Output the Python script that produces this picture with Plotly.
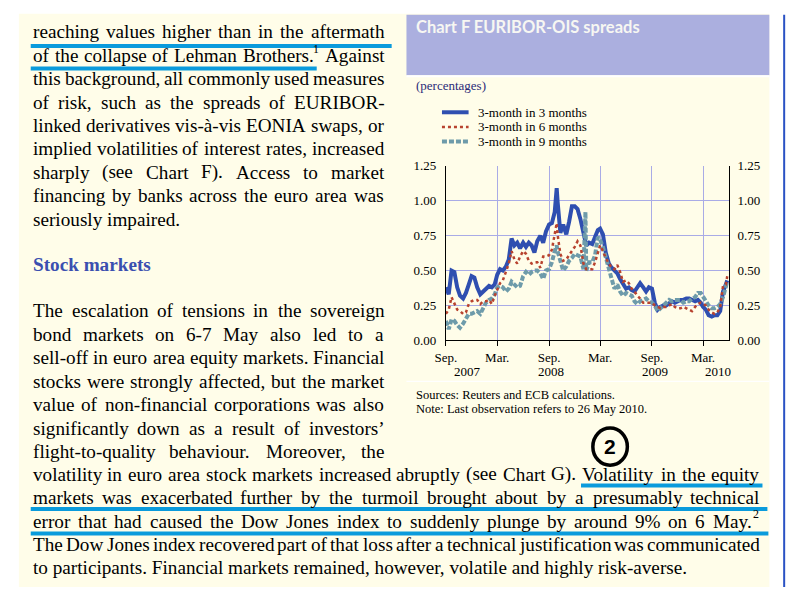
import plotly.graph_objects as go

W, H = 796, 595

# ---------------- data ----------------
dates = [
    "2007-09-01", "2007-09-11", "2007-09-21", "2007-10-01", "2007-10-11", "2007-10-21",
    "2007-11-01", "2007-11-11", "2007-11-21", "2007-12-01", "2007-12-11", "2007-12-21",
    "2008-01-01", "2008-01-11", "2008-01-21", "2008-02-01", "2008-02-11", "2008-02-21",
    "2008-03-01", "2008-03-11", "2008-03-21", "2008-04-01", "2008-04-11", "2008-04-21",
    "2008-05-01", "2008-05-11", "2008-05-21", "2008-06-01", "2008-06-11", "2008-06-21",
    "2008-07-01", "2008-07-11", "2008-07-21", "2008-08-01", "2008-08-11", "2008-08-21",
    "2008-09-01", "2008-09-11", "2008-09-21", "2008-09-28", "2008-10-01", "2008-10-11", "2008-10-21",
    "2008-11-01", "2008-11-11", "2008-11-21", "2008-12-01", "2008-12-11", "2008-12-21",
    "2009-01-01", "2009-01-08", "2009-01-11", "2009-01-21", "2009-02-01", "2009-02-11", "2009-02-21",
    "2009-03-01", "2009-03-11", "2009-03-21", "2009-04-01", "2009-04-11", "2009-04-21",
    "2009-05-01", "2009-05-11", "2009-05-21", "2009-06-01", "2009-06-11", "2009-06-21",
    "2009-07-01", "2009-07-11", "2009-07-21", "2009-08-01", "2009-08-11", "2009-08-21",
    "2009-09-01", "2009-09-11", "2009-09-21", "2009-10-01", "2009-10-11", "2009-10-21",
    "2009-11-01", "2009-11-11", "2009-11-21", "2009-12-01", "2009-12-11", "2009-12-21",
    "2010-01-01", "2010-01-11", "2010-01-21", "2010-02-01", "2010-02-11", "2010-02-21",
    "2010-03-01", "2010-03-11", "2010-03-21", "2010-04-01", "2010-04-11", "2010-04-21",
    "2010-05-01", "2010-05-11", "2010-05-21", "2010-05-26",
]

m3_in_3m = [
    .38, .33, .50, .49, .38, .32, .30, .34, .40, .46, .45, .38,
    .33, .35, .37, .39, .38, .40, .47, .51, .50, .53, .58, .73,
    .68, .70, .66, .70, .67, .70, .68, .63, .71, .75, .70, .78,
    .83, .84, .92, 1.09, 1.00, .77, .83, .76, .85, .96, .96, .94, .87,
    .76, .70, .68, .70, .69, .74, .79, .80, .76, .63, .55, .52, .50,
    .48, .44, .40, .37, .38, .36, .35, .38, .41, .38, .35, .38,
    .37, .27, .22, .24, .25, .25, .27, .28, .27, .28, .29, .29,
    .30, .30, .29, .28, .29, .27, .24, .22, .18, .17, .18, .18,
    .21, .35, .40, .43,
]

m3_in_6m = [
    .19, .22, .31, .26, .22, .21, .19, .20, .26, .28, .29, .29,
    .26, .28, .28, .29, .26, .32, .37, .41, .43, .49, .55, .64,
    .58, .55, .60, .64, .62, .57, .55, .56, .56, .52, .60, .60,
    .61, .65, .76, .84, .76, .62, .57, .58, .61, .64, .67, .71, .68,
    .55, .52, .51, .51, .51, .56, .62, .68, .64, .59, .55, .52, .51,
    .54, .49, .42, .43, .41, .37, .35, .32, .30, .27, .27, .27,
    .27, .25, .24, .23, .24, .24, .25, .26, .24, .23, .23, .24,
    .23, .22, .21, .24, .26, .27, .26, .25, .22, .20, .19, .20,
    .24, .39, .40, .46,
]

m3_in_9m = [
    .14, .08, .15, .14, .11, .09, .12, .16, .19, .19, .20, .21,
    .19, .23, .27, .29, .30, .33, .38, .39, .38, .35, .37, .42,
    .40, .38, .39, .46, .49, .47, .49, .50, .50, .48, .44, .50,
    .51, .56, .64, .68, .64, .56, .50, .53, .57, .59, .62, .61, .60,
    .51, .92, .50, .56, .56, .61, .74, .72, .67, .59, .50, .44, .37,
    .40, .35, .32, .34, .33, .32, .28, .26, .28, .29, .30, .28,
    .27, .25, .21, .23, .25, .27, .29, .28, .29, .29, .29, .27,
    .28, .28, .30, .31, .34, .34, .31, .28, .25, .23, .23, .24,
    .26, .31, .37, .42,
]

series_names = ["3-month in 3 months", "3-month in 6 months", "3-month in 9 months"]
tick_dates = ["2007-09-01", "2008-03-01", "2008-09-01", "2009-03-01", "2009-09-01", "2010-03-01"]
tick_text = ["Sep.", "Mar.", "Sep.", "Mar.", "Sep.", "Mar."]
year_labels = ["2007", "2008", "2009", "2010"]
year_label_dates = ["2007-11-17", "2008-09-08", "2009-09-10", "2010-04-24"]
y_ticks = [0, 0.25, 0.5, 0.75, 1.0, 1.25]
y_ticktext = ["0.00", "0.25", "0.50", "0.75", "1.00", "1.25"]

chart_title = "Chart F EURIBOR-OIS spreads"
unit_label = "(percentages)"
source_lines = ["Sources: Reuters and ECB calculations.",
                "Note: Last observation refers to 26 May 2010."]

para1 = [
    "reaching values higher than in the aftermath",
    "of the collapse of Lehman Brothers.^1 Against",
    "this background, all commonly used measures",
    "of risk, such as the spreads of EURIBOR-",
    "linked derivatives vis-à-vis EONIA swaps, or",
    "implied volatilities of interest rates, increased",
    "sharply (see Chart F). Access to market",
    "financing by banks across the euro area was",
    "seriously impaired.",
]
heading = "Stock markets"
para2 = [
    "The escalation of tensions in the sovereign",
    "bond markets on 6-7 May also led to a",
    "sell-off in euro area equity markets. Financial",
    "stocks were strongly affected, but the market",
    "value of non-financial corporations was also",
    "significantly down as a result of investors’",
    "flight-to-quality behaviour. Moreover, the",
]
para3 = [
    "volatility in euro area stock markets increased abruptly (see Chart G). Volatility in the equity",
    "markets was exacerbated further by the turmoil brought about by a presumably technical",
    "error that had caused the Dow Jones index to suddenly plunge by around 9% on 6 May.^2",
    "The Dow Jones index recovered part of that loss after a technical justification was communicated",
    "to participants. Financial markets remained, however, volatile and highly risk-averse.",
]

# ---------------- helpers ----------------
SERIF = "Liberation Serif, Times New Roman, serif"
CREAM = "#FFFDE9"
GRID = "#A9ABE6"


def PX(x):
    return x / W


def PY(y):
    return 1 - y / H


TW = {' ': 250, '!': 333, '"': 408, '#': 500, '$': 500, '%': 833, '&': 778, "'": 180,
      '(': 333, ')': 333, '*': 500, '+': 564, ',': 250, '-': 333, '.': 250, '/': 278,
      ':': 278, ';': 278, '?': 444,
      'A': 722, 'B': 667, 'C': 667, 'D': 722, 'E': 611, 'F': 556, 'G': 722, 'H': 722,
      'I': 333, 'J': 389, 'K': 722, 'L': 611, 'M': 889, 'N': 722, 'O': 722, 'P': 556,
      'Q': 722, 'R': 667, 'S': 556, 'T': 611, 'U': 722, 'V': 722, 'W': 944, 'X': 722,
      'Y': 722, 'Z': 611,
      'a': 444, 'b': 500, 'c': 444, 'd': 500, 'e': 444, 'f': 333, 'g': 500, 'h': 500,
      'i': 278, 'j': 278, 'k': 500, 'l': 278, 'm': 778, 'n': 500, 'o': 500, 'p': 500,
      'q': 500, 'r': 333, 's': 389, 't': 278, 'u': 500, 'v': 500, 'w': 722, 'x': 500,
      'y': 500, 'z': 444, 'à': 444, '’': 333}
for d in "0123456789":
    TW[d] = 500

SUP = 0.62  # superscript size ratio


def split_sup(w):
    if "^" in w:
        base, sup = w.split("^")
        return base, sup
    return w, ""


def word_units(w):
    base, sup = split_sup(w)
    return sum(TW.get(c, 500) for c in base) + SUP * sum(TW.get(c, 500) for c in sup)


annotations = []


def add_text(text, x, y, size, color="black", family=SERIF, xanchor="left", bold=False,
             xref="paper"):
    annotations.append(dict(
        x=x if xref != "paper" else PX(x), y=PY(y), xref=xref, yref="paper", text=text,
        showarrow=False, xanchor=xanchor, yanchor="middle", borderpad=0, borderwidth=0,
        font=dict(family=family, size=size, color=color,
                  weight="bold" if bold else "normal")))


def add_word(w, x, yc, size, color="black", bold=False):
    base, sup = split_sup(w)
    add_text(base, x, yc, size, color=color, bold=bold)
    if sup:
        bw = sum(TW.get(c, 500) for c in base) * size / 1000
        add_text(sup, x + bw + 0.5, yc - 0.36 * size, size * SUP, color=color)


def text_line(line, x0, x1, yc, size, justify=True, color="black", bold=False):
    if not justify:
        add_text(line, x0, yc, size, color=color, bold=bold)
        return
    words = line.split(" ")
    n = len(words)
    units = [word_units(w) for w in words]
    min_gap = 0.2
    natural = (sum(units) / 1000 + (n - 1) * min_gap) * size
    if natural > (x1 - x0):
        size = size * (x1 - x0) / natural
    widths = [u * size / 1000 for u in units]
    gap = (x1 - x0 - sum(widths)) / (n - 1)
    x = x0
    for w, wd in zip(words, widths):
        add_word(w, x, yc, size, color=color, bold=bold)
        x += wd + gap


# ---------------- body text ----------------
FS = 19.2
for i, ln in enumerate(para1):
    text_line(ln, 22, 378, 25.5 + 24 * i, FS, justify=(i < len(para1) - 1))
text_line(heading, 22, 378, 264, FS, justify=False, color="#3A4FB0", bold=True)
for i, ln in enumerate(para2):
    text_line(ln, 22, 378, 311.5 + 24.1 * i, FS, justify=True)
for i, ln in enumerate(para3):
    text_line(ln, 22, 758, 479.5 + 24 * i, FS, justify=(i < len(para3) - 1))

# ---------------- chart texts ----------------
add_text(chart_title, 411, 21, 16.5, color="#F7F7F2", family="Lato, Open Sans, sans-serif", bold=True)
add_text(unit_label, 411, 81, 13, color="#2B2B78")
leg_y = [108, 123, 138]
for nm, yy in zip(series_names, leg_y):
    add_text(nm, 474, yy, 13)
for yl, yd in zip(year_labels, year_label_dates):
    add_text(yl, yd, 373.5, 13, xanchor="center", xref="x")
add_text(source_lines[0], 411, 398, 12.5)
add_text(source_lines[1], 411, 412, 12.5)
add_text("2", 607, 451, 21, family="Liberation Sans, Arial, sans-serif", xanchor="center", bold=True)

# ---------------- shapes ----------------
shapes = []


def rect(x0, y0, x1, y1, fill, layer="below"):
    shapes.append(dict(type="rect", xref="paper", yref="paper", x0=PX(x0), x1=PX(x1),
                       y0=PY(y0), y1=PY(y1), fillcolor=fill, line=dict(width=0), layer=layer))


def seg(x0, y0, x1, y1, color, width, dash="solid", layer="above"):
    shapes.append(dict(type="line", xref="paper", yref="paper", x0=PX(x0), x1=PX(x1),
                       y0=PY(y0), y1=PY(y1), line=dict(color=color, width=width, dash=dash),
                       layer=layer))


rect(8, 7, 769, 595, CREAM)
rect(401, 8, 769, 70, "#ABAFDF")
rect(401, 70, 769, 72, "white")
seg(401, 384, 769, 384, "white", 1.2, layer="below")
seg(784, 8, 784, 595, "#2A52C4", 2)

# legend samples
seg(437, 108, 464, 108, "#2F4FB0", 4)
seg(437, 123, 464, 123, "#B8432F", 2.5, dash="dot")
seg(437, 138, 464, 138, "#6E9BAA", 4, dash="5px,2px")

# highlighter underlines
UL = "#0A9BDC"
seg(20, 40, 386, 40, UL, 4)
seg(20, 63, 310, 63, UL, 4)
seg(578, 491, 762, 491, UL, 4)
seg(20, 515, 767, 515, UL, 4)
seg(20, 540, 768, 540, UL, 4)

# circle around the "2"
shapes.append(dict(type="circle", xref="paper", yref="paper", x0=PX(590), x1=PX(625),
                   y0=PY(470), y1=PY(432), line=dict(color="black", width=3.5)))

# ---------------- traces ----------------
fig = go.Figure()
fig.add_trace(go.Scatter(x=dates, y=m3_in_3m, name=series_names[0], mode="lines",
                         line=dict(color="#2F4FB0", width=4), showlegend=False))
fig.add_trace(go.Scatter(x=dates, y=m3_in_9m, name=series_names[2], mode="lines",
                         line=dict(color="#6E9BAA", width=4, dash="5px,2px"), showlegend=False))
fig.add_trace(go.Scatter(x=dates, y=m3_in_6m, name=series_names[1], mode="lines", yaxis="y2",
                         line=dict(color="#B8432F", width=2.5, dash="dot"), showlegend=False))

tickfont = dict(family=SERIF, size=13, color="black")
fig.update_layout(
    width=W, height=H, autosize=False,
    margin=dict(l=0, r=0, t=0, b=0),
    paper_bgcolor="white", plot_bgcolor="rgba(0,0,0,0)",
    showlegend=False,
    xaxis=dict(domain=[441 / W, 728 / W], range=["2007-09-01", "2010-06-01"],
               tickvals=tick_dates, ticktext=tick_text, ticks="outside", ticklen=5,
               tickcolor="black", showline=True, linecolor="black", linewidth=1,
               showgrid=True, gridcolor=GRID, gridwidth=1, zeroline=False,
               tickfont=tickfont, fixedrange=True),
    yaxis=dict(domain=[1 - 342 / H, 1 - 163 / H], range=[0, 1.25], tickvals=y_ticks,
               ticktext=y_ticktext, showline=True, linecolor="black", linewidth=1,
               showgrid=True, gridcolor=GRID, gridwidth=1, zeroline=False, ticks="",
               tickfont=tickfont, ticklabelstandoff=6),
    yaxis2=dict(overlaying="y", side="right", anchor="x", range=[0, 1.25], tickvals=y_ticks,
                ticktext=y_ticktext, showline=True, linecolor="black", linewidth=1,
                showgrid=False, zeroline=False, ticks="", tickfont=tickfont,
                ticklabelstandoff=5),
    shapes=shapes,
    annotations=annotations,
)

fig.write_html("out.html", config={"displayModeBar": False},
               post_script="document.body.style.margin='0px';")
